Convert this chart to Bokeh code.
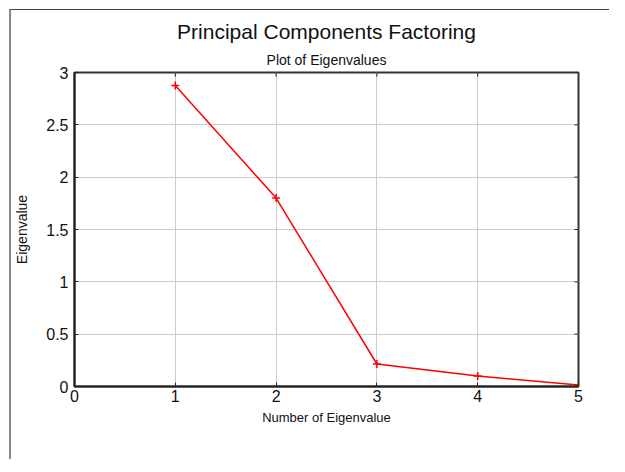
from bokeh.plotting import figure
from bokeh.models import Range1d, Title, FixedTicker
from bokeh.embed import file_html
from bokeh.resources import INLINE

# Data
eig_number = [1, 2, 3, 4, 5]
eigenvalues = [2.875, 1.80, 0.215, 0.10, 0.015]
x_ticks = [0, 1, 2, 3, 4, 5]
y_ticks = [0, 0.5, 1, 1.5, 2, 2.5, 3]
y_tick_labels = {0: "0", 0.5: "0.5", 1: "1", 1.5: "1.5", 2: "2", 2.5: "2.5", 3: "3"}

FONT = "Liberation Sans"
X0, X1, Y0, Y1 = 0, 5, 0, 3

p = figure(width=600, height=450, output_backend="svg", toolbar_location=None,
           x_range=Range1d(X0, X1), y_range=Range1d(Y0, Y1),
           min_border_left=62, min_border_right=33, min_border_top=62, min_border_bottom=74,
           title=None)
p.styles = {"margin-left": "9px", "margin-top": "9px",
            "border-left": "2px solid #888888", "border-top": "1px solid #444444"}

p.outline_line_color = "#333333"
p.outline_line_width = 2

# Axes
for ax in [p.xaxis[0], p.yaxis[0]]:
    ax.axis_line_color = "#222222"
    ax.axis_line_width = 2
    ax.major_tick_in = 4
    ax.major_tick_out = 0
    ax.major_tick_line_color = "#222222"
    ax.minor_tick_line_color = None
    ax.major_label_text_font = FONT
    ax.major_label_text_font_size = "16px"
    ax.major_label_text_color = "#111111"
    ax.axis_label_text_font = FONT
    ax.axis_label_text_font_style = "normal"
    ax.axis_label_text_color = "#111111"

p.xaxis[0].axis_label_text_font_size = "13px"
p.yaxis[0].axis_label_text_font_size = "14px"
p.xaxis[0].ticker = FixedTicker(ticks=x_ticks)
p.yaxis[0].ticker = FixedTicker(ticks=y_ticks)
p.yaxis[0].major_label_overrides = y_tick_labels
p.xaxis[0].axis_label = "Number of Eigenvalue"
p.yaxis[0].axis_label = "Eigenvalue"
p.xaxis[0].major_label_standoff = 3
p.xaxis[0].axis_label_standoff = 5
p.yaxis[0].major_label_standoff = 6
p.yaxis[0].axis_label_standoff = 13

# Grid
p.xgrid.ticker = FixedTicker(ticks=x_ticks)
p.ygrid.ticker = FixedTicker(ticks=y_ticks)
p.xgrid.grid_line_color = "#cccccc"
p.ygrid.grid_line_color = "#cccccc"

# Inward ticks on the top and right frame edges (at the tick positions)
tick_len_x = 0.04 * (X1 - X0) / 5
tick_len_y = 0.04 * (Y1 - Y0) / 3
inner_x = x_ticks[1:-1]
inner_y = y_ticks[1:-1]
p.segment(x0=inner_x, y0=[Y1] * len(inner_x), x1=inner_x, y1=[Y1 - tick_len_y] * len(inner_x),
          line_color="#222222", line_width=1)
p.segment(x0=[X1] * len(inner_y), y0=inner_y, x1=[X1 - tick_len_x] * len(inner_y), y1=inner_y,
          line_color="#222222", line_width=1)

# Titles
p.add_layout(Title(text="Plot of Eigenvalues", align="center", text_font=FONT,
                   text_font_size="14px", text_font_style="normal", text_color="#111111",
                   standoff=9), "above")
p.add_layout(Title(text="Principal Components Factoring", align="center", text_font=FONT,
                   text_font_size="21px", text_font_style="normal", text_color="#111111",
                   standoff=6), "above")

# Data
p.line(eig_number, eigenvalues, line_color="red", line_width=1.5)
p.scatter(eig_number, eigenvalues, marker="cross", size=8, line_color="red", line_width=1.5)

open("out.html", "w").write(file_html(p, INLINE))
